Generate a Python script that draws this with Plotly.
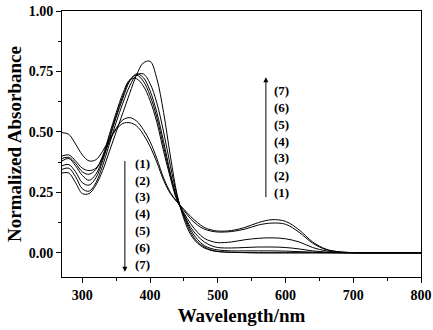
import plotly.graph_objects as go

wavelength = [270, 280, 290, 300, 310, 320, 330, 340, 350, 360, 370, 380, 390, 400,
              410, 420, 430, 440, 450, 460, 470, 480, 490, 500, 520, 540, 560, 580,
              600, 620, 640, 660, 680, 700, 750, 800]

curve_a = [0.33, 0.33, 0.29, 0.245, 0.245, 0.28, 0.34, 0.42, 0.50, 0.58, 0.66, 0.735, 0.785, 0.792,
           0.72, 0.58, 0.40, 0.24, 0.14, 0.075, 0.04, 0.02, 0.01, 0.005, 0.002, 0.001, 0.0, 0.0,
           0.0, 0.0, 0.0, 0.0, 0.0, 0.0, 0.0, 0.0]
curve_b = [0.345, 0.35, 0.315, 0.265, 0.255, 0.29, 0.36, 0.45, 0.54, 0.62, 0.69, 0.735, 0.74, 0.70,
           0.62, 0.50, 0.36, 0.235, 0.15, 0.085, 0.045, 0.025, 0.012, 0.006, 0.002, 0.001, 0.0, 0.0,
           0.0, 0.0, 0.0, 0.0, 0.0, 0.0, 0.0, 0.0]
curve_c = [0.36, 0.365, 0.335, 0.29, 0.28, 0.31, 0.38, 0.47, 0.56, 0.64, 0.71, 0.74, 0.725, 0.67,
           0.58, 0.46, 0.33, 0.225, 0.155, 0.095, 0.055, 0.03, 0.018, 0.012, 0.008, 0.008, 0.008, 0.008,
           0.007, 0.005, 0.003, 0.001, 0.0, 0.0, 0.0, 0.0]
curve_d = [0.38, 0.39, 0.36, 0.32, 0.30, 0.325, 0.39, 0.48, 0.57, 0.65, 0.715, 0.735, 0.71, 0.65,
           0.56, 0.44, 0.32, 0.22, 0.16, 0.105, 0.07, 0.045, 0.03, 0.022, 0.02, 0.022, 0.024, 0.024,
           0.022, 0.016, 0.008, 0.003, 0.001, 0.0, 0.0, 0.0]
curve_e = [0.39, 0.395, 0.37, 0.335, 0.325, 0.345, 0.40, 0.49, 0.58, 0.66, 0.715, 0.72, 0.69, 0.63,
           0.54, 0.42, 0.31, 0.215, 0.165, 0.12, 0.085, 0.06, 0.048, 0.042, 0.045, 0.054, 0.06, 0.062,
           0.058, 0.045, 0.022, 0.008, 0.002, 0.0, 0.0, 0.0]
curve_f = [0.40, 0.405, 0.38, 0.35, 0.34, 0.35, 0.395, 0.46, 0.515, 0.55, 0.559, 0.545, 0.51, 0.46,
           0.39, 0.31, 0.25, 0.21, 0.175, 0.14, 0.115, 0.098, 0.09, 0.086, 0.088, 0.098, 0.115, 0.123,
           0.118, 0.085, 0.04, 0.013, 0.004, 0.001, 0.0, 0.0]
curve_g = [0.497, 0.49, 0.45, 0.405, 0.38, 0.385, 0.42, 0.47, 0.51, 0.535, 0.538, 0.525, 0.49, 0.44,
           0.375, 0.30, 0.245, 0.21, 0.18, 0.15, 0.125, 0.105, 0.095, 0.09, 0.092, 0.105, 0.125, 0.137,
           0.13, 0.095, 0.045, 0.015, 0.004, 0.001, 0.0, 0.0]

series = [curve_a, curve_b, curve_c, curve_d, curve_e, curve_f, curve_g]

x_ticks = [300, 400, 500, 600, 700, 800]
y_ticks = [0.00, 0.25, 0.50, 0.75, 1.00]
label_names = ["(1)", "(2)", "(3)", "(4)", "(5)", "(6)", "(7)"]

FONT = "Liberation Serif"

fig = go.Figure()
for s in series:
    fig.add_trace(go.Scatter(x=wavelength, y=s, mode="lines", line=dict(color="black", width=1, shape="spline"),
                             showlegend=False, hoverinfo="skip"))

# left arrow (decreasing) and labels
fig.add_annotation(x=362.8, y=-0.078, ax=362.8, ay=0.386, axref="x", ayref="y", xref="x", yref="y",
                   text="", showarrow=True, arrowhead=2, arrowsize=1, arrowwidth=1, arrowcolor="black")
left_y = [0.369, 0.30, 0.231, 0.162, 0.091, 0.02, -0.05]
for name, yy in zip(label_names, left_y):
    fig.add_annotation(x=374.6, y=yy, text="<b>" + name + "</b>", showarrow=False, xanchor="left",
                       yanchor="middle", font=dict(family=FONT, size=13, color="black"))

# right arrow (increasing) and labels
fig.add_annotation(x=571, y=0.726, ax=571, ay=0.224, axref="x", ayref="y", xref="x", yref="y",
                   text="", showarrow=True, arrowhead=2, arrowsize=1, arrowwidth=1, arrowcolor="black")
right_y = [0.25, 0.321, 0.393, 0.462, 0.531, 0.601, 0.67]
for name, yy in zip(label_names, right_y):
    fig.add_annotation(x=579.5, y=yy, text="<b>" + name + "</b>", showarrow=False, xanchor="left",
                       yanchor="middle", font=dict(family=FONT, size=13, color="black"))

axis_common = dict(showgrid=False, zeroline=False, showline=True, linecolor="black", linewidth=1,
                   mirror=True, ticks="outside", ticklen=5, tickwidth=1, tickcolor="black",
                   automargin=False,
                   tickfont=dict(family=FONT, size=14, color="black"))

fig.update_xaxes(range=[270, 800], tickvals=x_ticks, ticktext=["<b>%d</b>" % v for v in x_ticks],
                 minor=dict(ticks="outside", ticklen=3, tickwidth=1, tickcolor="black", dtick=50, tick0=0),
                 title=dict(text="<b>Wavelength/nm</b>", font=dict(family=FONT, size=19, color="black"),
                            standoff=6),
                 **axis_common)
fig.update_yaxes(range=[-0.1, 1.0], tickvals=y_ticks, ticktext=["<b>%.2f</b>" % v for v in y_ticks],
                 minor=dict(ticks="outside", ticklen=3, tickwidth=1, tickcolor="black", dtick=0.125, tick0=0),
                 title=dict(text="<b>Normalized Absorbance</b>", font=dict(family=FONT, size=19, color="black"),
                            standoff=2),
                 **axis_common)

fig.update_layout(width=433, height=330, margin=dict(l=62, r=12, t=11, b=53),
                  plot_bgcolor="white", paper_bgcolor="white")

fig.write_html("out.html", config={"displayModeBar": False},
               post_script="document.body.style.margin='0';document.body.style.overflow='hidden';")
